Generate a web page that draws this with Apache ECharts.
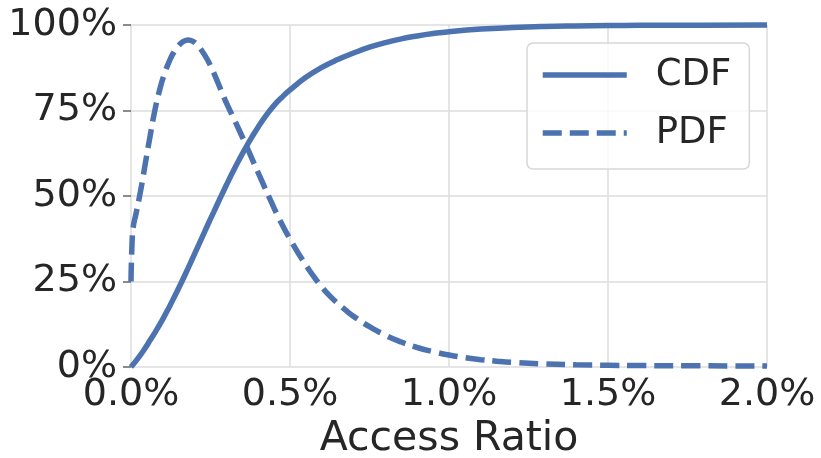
<!DOCTYPE html>
<html>
<head>
<meta charset="utf-8">
<script src="https://cdn.jsdelivr.net/npm/echarts@6/dist/echarts.min.js"></script>
<style>
  html, body { margin: 0; padding: 0; background: #fff; }
  #chart { width: 821px; height: 458px; }
</style>
</head>
<body>
<div id="chart"></div>
<script>
// Cumulative share of accesses vs. access ratio (x in %, y in %)
const cdfRatio = [0.00, 0.02, 0.04, 0.06, 0.08, 0.10, 0.12, 0.14, 0.16, 0.18, 0.20, 0.22, 0.24, 0.26, 0.28, 0.30,
  0.32, 0.34, 0.36, 0.38, 0.40, 0.425, 0.45, 0.475, 0.50, 0.55, 0.60, 0.65, 0.70, 0.75, 0.80, 0.85, 0.90, 0.95,
  1.00, 1.10, 1.20, 1.30, 1.40, 1.50, 1.60, 1.80, 2.00];
const cdfValue = [0, 2.3, 4.9, 7.8, 10.8, 14.0, 17.5, 21.2, 25.0, 29.0, 33.1, 37.2, 41.3, 45.3, 49.3, 53.2,
  57.0, 60.6, 64.0, 67.2, 70.2, 73.6, 76.5, 78.9, 81.0, 84.7, 87.6, 89.9, 91.8, 93.5, 94.85, 95.95, 96.8, 97.5,
  98.05, 98.8, 99.25, 99.55, 99.72, 99.83, 99.9, 99.96, 100];

// Density of accesses vs. access ratio
const pdfRatio = [0.000, 0.004, 0.008, 0.015, 0.025, 0.035, 0.045, 0.060, 0.075, 0.090, 0.105, 0.120, 0.135,
  0.150, 0.165, 0.180, 0.195, 0.210, 0.225, 0.240, 0.255, 0.270, 0.285, 0.300, 0.320, 0.340, 0.360, 0.380,
  0.400, 0.420, 0.440, 0.460, 0.480, 0.500, 0.520, 0.540, 0.560, 0.580, 0.600, 0.625, 0.650, 0.675, 0.700,
  0.750, 0.800, 0.850, 0.900, 0.950, 1.000, 1.050, 1.100, 1.150, 1.200, 1.300, 1.400, 1.500, 1.600, 1.750, 2.000];
const pdfValue = [25, 38, 41.5, 44.5, 49, 54, 59.5, 67.5, 75.0, 81.0, 85.7, 89.3, 92.1,
  94.0, 95.2, 95.6, 95.2, 94.0, 92.2, 89.9, 87.1, 83.9, 80.5, 77.2, 73.3, 69.3, 65.2, 61.0,
  56.8, 52.6, 48.5, 44.5, 40.8, 37.4, 34.2, 31.2, 28.4, 25.8, 23.4, 20.8, 18.6, 16.6, 14.8,
  11.8, 9.3, 7.3, 5.7, 4.5, 3.5, 2.75, 2.15, 1.7, 1.35, 0.9, 0.65, 0.5, 0.42, 0.35, 0.3];

const xTicks = [0, 0.5, 1.0, 1.5, 2.0];
const yTicks = [0, 25, 50, 75, 100];

const seriesNames = ['CDF', 'PDF'];

const FONT = 'DejaVu Sans';
const INK = '#262626';
const GRID = '#dcdcdc';
const BLUE = '#4c72b0';
const LINE_W = 5.5;

const pairs = (xs, ys) => xs.map((x, i) => [x, ys[i]]);

const chart = echarts.init(document.getElementById('chart'), null, { renderer: 'canvas' });

chart.setOption({
  animation: false,
  backgroundColor: '#ffffff',
  grid: { left: 131, right: 54, top: 25, bottom: 91, containLabel: false, outerBoundsMode: 'none' },
  legend: {
    orient: 'vertical',
    left: 527,
    top: 43,
    padding: [12, 18, 16, 13],
    itemGap: 18,
    itemWidth: 84,
    // a very short icon keeps the line-series marker hidden inside the stroke
    itemHeight: 2,
    itemStyle: { opacity: 0, borderWidth: 0 },
    lineStyle: { width: LINE_W },
    backgroundColor: 'rgba(255,255,255,0.8)',
    borderColor: '#d6d6d6',
    borderWidth: 1.5,
    borderRadius: 6,
    data: seriesNames,
    textStyle: {
      fontFamily: FONT,
      fontSize: 37,
      color: INK,
      lineHeight: 40,
      padding: [0, 0, 0, 24]
    }
  },
  xAxis: {
    type: 'value',
    min: xTicks[0],
    max: xTicks[xTicks.length - 1],
    interval: 0.5,
    name: 'Access Ratio',
    nameLocation: 'middle',
    nameGap: 50,
    nameTextStyle: { fontFamily: FONT, fontSize: 41, color: INK },
    axisLine: { show: false },
    axisTick: { show: false },
    axisLabel: {
      fontFamily: FONT,
      fontSize: 38,
      color: INK,
      margin: 9,
      formatter: v => v.toFixed(1) + '%'
    },
    splitLine: { show: true, lineStyle: { color: GRID, width: 1.5 } }
  },
  yAxis: {
    type: 'value',
    min: yTicks[0],
    max: yTicks[yTicks.length - 1],
    interval: 25,
    axisLine: { show: false },
    axisTick: { show: true, length: 8, lineStyle: { color: '#666', width: 1.5 } },
    axisLabel: {
      fontFamily: FONT,
      fontSize: 38,
      color: INK,
      margin: 14,
      formatter: v => v + '%'
    },
    splitLine: { show: true, lineStyle: { color: GRID, width: 1.5 } }
  },
  series: [
    {
      name: seriesNames[0],
      type: 'line',
      data: pairs(cdfRatio, cdfValue),
      symbol: 'none',
      smooth: 0.5,
      clip: false,
      lineStyle: { color: BLUE, width: LINE_W, cap: 'butt' },
      itemStyle: { color: BLUE },
      z: 3
    },
    {
      name: seriesNames[1],
      type: 'line',
      data: pairs(pdfRatio, pdfValue),
      symbol: 'none',
      smooth: 0.5,
      clip: false,
      lineStyle: { color: BLUE, width: LINE_W, type: [19, 8], cap: 'butt' },
      itemStyle: { color: BLUE },
      z: 3
    }
  ]
});
</script>
</body>
</html>
